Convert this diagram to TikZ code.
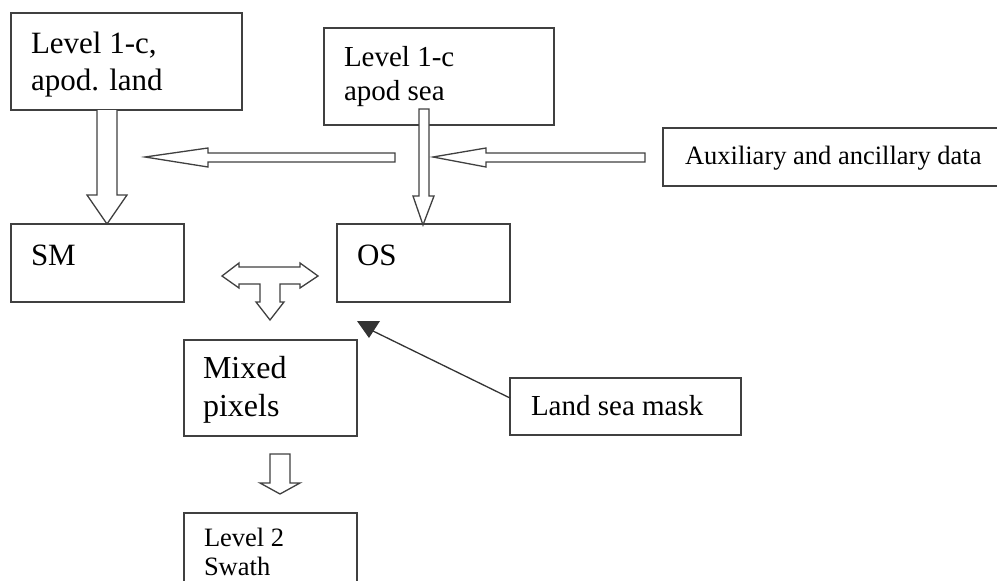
\documentclass[tikz,border=0pt]{standalone}
\usepackage{fontspec}
\setmainfont{Liberation Serif}
\begin{document}
\begin{tikzpicture}[x=1pt,y=-1pt,
  box/.style={draw=black!75,line width=1.4pt,rectangle,inner sep=0pt,outer sep=0pt,anchor=north west},
  txt/.style={inner sep=0pt,outer sep=0pt,anchor=base west,text=black},
  blockarrow/.style={draw=black!75,line width=1.3pt,fill=white,line join=miter},
  thinline/.style={draw=black!80,line width=1.3pt}]
\useasboundingbox (0,0) rectangle (997,581);
\clip (0,0) rectangle (997,581);
% boxes
\node[box,minimum width=231pt,minimum height=97pt] (A) at (11,13) {};
\node[box,minimum width=230pt,minimum height=97pt] (B) at (324,28) {};
\node[box,minimum width=350pt,minimum height=58pt] (aux) at (663,128) {};
\node[box,minimum width=173pt,minimum height=78pt] (SM) at (11,224) {};
\node[box,minimum width=173pt,minimum height=78pt] (OS) at (337,224) {};
\node[box,minimum width=173pt,minimum height=96pt] (mix) at (184,340) {};
\node[box,minimum width=231pt,minimum height=57pt] (lsm) at (510,378) {};
\node[box,minimum width=173pt,minimum height=100pt] (lv2) at (184,513) {};
% texts
\node[txt,font=\fontsize{31}{37}\selectfont] (A1) at (31,53) {Level 1-c,};
\node[txt,font=\fontsize{31}{37}\selectfont] (A2) at (31,90) {apod. land};
\node[txt,font=\fontsize{29}{34}\selectfont] (B1) at (344,66) {Level 1-c};
\node[txt,font=\fontsize{29}{34}\selectfont] (B2) at (344,100) {apod sea};
\node[txt,font=\fontsize{26.5}{30}\selectfont] (auxt) at (685,164) {Auxiliary and ancillary data};
\node[txt,font=\fontsize{31}{37}\selectfont] (SMt) at (31,265) {SM};
\node[txt,font=\fontsize{31}{37}\selectfont] (OSt) at (357,265) {OS};
\node[txt,font=\fontsize{32}{38}\selectfont] (mix1) at (203,378) {Mixed};
\node[txt,font=\fontsize{32}{38}\selectfont] (mix2) at (203,416) {pixels};
\node[txt,font=\fontsize{29}{34}\selectfont] (lsmt) at (531,415) {Land sea mask};
\node[txt,font=\fontsize{26.5}{30}\selectfont] (lv21) at (204,546) {Level 2};
\node[txt,font=\fontsize{26.5}{30}\selectfont] (lv22) at (204,575) {Swath};
% block arrow A -> SM
\draw[blockarrow] (97,110) -- (97,195) -- (87,195) -- (107,224) -- (127,195) -- (117,195) -- (117,110);
% block arrow left (towards A/SM arrow)
\draw[blockarrow] (395,153) -- (208,153) -- (208,148) -- (145,157) -- (208,167) -- (208,162) -- (395,162) -- cycle;
% block arrow B -> OS
\draw[blockarrow] (419,109) -- (419,196) -- (413,196) -- (423,225) -- (434,196) -- (429,196) -- (429,109) -- cycle;
% block arrow aux -> left
\draw[blockarrow] (645,153) -- (486,153) -- (486,148) -- (433,157) -- (486,167) -- (486,162) -- (645,162) -- cycle;
% T arrow
\draw[blockarrow] (222,276) -- (239,263) -- (239,267) -- (300,267) -- (300,263) -- (318,276)
  -- (300,288) -- (300,284) -- (280,284) -- (280,302) -- (284,302) -- (270,320) -- (256,302)
  -- (260,302) -- (260,284) -- (239,284) -- (239,288) -- cycle;
% block arrow mixed -> level 2
\draw[blockarrow] (270,454) -- (290,454) -- (290,483) -- (300,483) -- (280,494) -- (260,483) -- (270,483) -- cycle;
% land sea mask -> OS
\coordinate (lsmin) at (510,398);
\coordinate (ostip) at (373,331);
\draw[thinline] (lsmin) -- (ostip);
\fill[black!80] (357,321) -- (380,321) -- (369,338) -- cycle;
\end{tikzpicture}
\end{document}
